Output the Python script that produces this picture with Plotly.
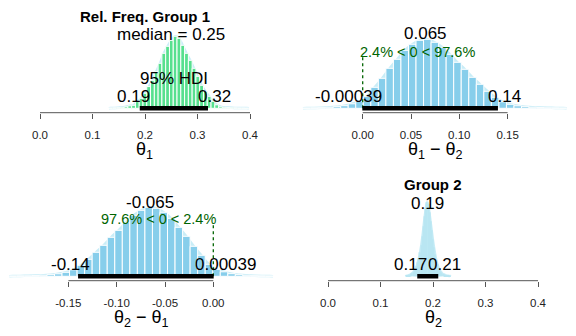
import plotly.graph_objects as go

W, H = 576, 336

# Posterior of theta1 (Group 1): histogram bins starting at g1_start, width g1_width
g1_start, g1_width = 0.1314, 0.0072
g1_heights = [0.3, 0.4, 0.6, 1.0, 1.5, 2.5, 3, 6.7, 10, 15, 21.7, 28, 36.7, 45,
              55, 62, 68, 72, 70, 63, 55, 48, 40, 32, 23, 17, 12, 7, 3.5, 1.5,
              1.0, 0.7, 0.5, 0.4, 0.3, 0.3, 0.2]

# Posterior of theta1 - theta2
diff_start, diff_width = -0.0618, 0.0078
diff_heights = [0.3, 0.4, 0.6, 1.0, 1.6, 2.6, 4.5, 7, 12, 21, 30, 40, 49, 58,
                64, 68, 69, 66, 61, 54, 46, 39, 31, 24, 17, 11, 6.5, 4, 2.5,
                1.6, 1.0, 0.7, 0.5, 0.4, 0.3]

# Posterior of theta2 (Group 2)
g2_start, g2_width = 0.148, 0.0022
g2_heights = [0.5, 0.7, 1, 1.5, 2, 3, 4, 5.5, 7.5, 10, 14, 18, 24, 31, 40, 50,
              60, 68, 74, 72, 64, 55, 46, 37, 29, 22, 16, 12, 8.5, 6, 4.5, 3,
              2.2, 1.6, 1.1, 0.8, 0.6, 0.4, 0.3]

g1_median, g1_hdi = 0.25, [0.19, 0.32]
diff_mode, diff_hdi = 0.065, [-0.00039, 0.14]
g2_mode, g2_hdi = 0.19, [0.17, 0.21]
pct_below, pct_above = 2.4, 97.6

FONT = "Liberation Sans, Arial, Helvetica, sans-serif"
SKY = "#87CEEB"
PALE = "#c9edf7"
GREEN = "#57e08f"
CVCOL = "#006400"

CHAR_W = {**{d: 0.556 for d in "0123456789"}, ".": 0.278, "-": 0.333,
          "%": 0.889, " ": 0.278, "<": 0.584}


def text_width(s, size):
    return sum(CHAR_W.get(c, 0.556) for c in s) * size


def fmt(v):
    return f"{v:g}"


def centers(start, width, n):
    return [start + width * (i + 0.5) for i in range(n)]


fig = go.Figure()

# panel geometry: (pixel x-domain, x-range, pixel y-domain top/bottom)
panels = {
    1: dict(px=(31.6, 258.4), xr=(-0.016, 0.416), py=(2, 112.7)),
    2: dict(px=(295, 576), xr=((295 - 362.7) / 966, (576 - 362.7) / 966), py=(2, 112.7)),
    3: dict(px=(0, 282), xr=((0 - 213.3) / 966, (282 - 213.3) / 966), py=(170, 280.7)),
    4: dict(px=(319.6, 546.4), xr=(-0.016, 0.416), py=(170, 280.7)),
}
YR = (-4.4, 106.3)
ticks = {
    1: [0, 0.1, 0.2, 0.3, 0.4],
    2: [0, 0.05, 0.10, 0.15],
    3: [-0.15, -0.10, -0.05, 0],
    4: [0, 0.1, 0.2, 0.3, 0.4],
}
ticktext = {
    1: ["0.0", "0.1", "0.2", "0.3", "0.4"],
    2: ["0.00", "0.05", "0.10", "0.15"],
    3: ["-0.15", "-0.10", "-0.05", "0.00"],
    4: ["0.0", "0.1", "0.2", "0.3", "0.4"],
}
axis_titles = {
    1: "θ<sub>1</sub>",
    2: "θ<sub>1</sub> − θ<sub>2</sub>",
    3: "θ<sub>2</sub> − θ<sub>1</sub>",
    4: "θ<sub>2</sub>",
}

for k, p in panels.items():
    sx = "" if k == 1 else str(k)
    fig.layout[f"xaxis{sx}"] = dict(
        domain=[p["px"][0] / W, p["px"][1] / W], range=list(p["xr"]),
        anchor=f"y{sx}", showgrid=False, zeroline=False, showline=False,
        tickmode="array", tickvals=ticks[k], ticktext=ticktext[k],
        ticks="outside", ticklen=5, tickwidth=1, tickcolor="#555",
        ticklabelstandoff=6,
        tickfont=dict(family=FONT, size=11.5, color="#222"), fixedrange=True)
    fig.layout[f"yaxis{sx}"] = dict(
        domain=[1 - p["py"][1] / H, 1 - p["py"][0] / H], range=list(YR),
        anchor=f"x{sx}", visible=False, fixedrange=True)
    # axis line spanning first to last tick
    fig.add_shape(type="line", xref=f"x{sx}", yref=f"y{sx} domain",
                  x0=ticks[k][0], x1=ticks[k][-1], y0=0, y1=0,
                  line=dict(color="#555", width=1))
    fig.add_annotation(text=axis_titles[k], xref=f"x{sx} domain", x=0.5,
                       yref="paper", y=1 - (150 if k <= 2 else 318) / H,
                       xanchor="center", yanchor="middle", showarrow=False,
                       font=dict(family=FONT, size=18, color="#000"))


def add_hist(k, start, width, heights, color, line_w=1):
    sx = "" if k == 1 else str(k)
    xs = centers(start, width, len(heights))
    # pale density envelope under the bars
    fig.add_trace(go.Scatter(
        x=[start] + xs + [start + width * len(heights)],
        y=[0] + heights + [0], mode="lines",
        line=dict(width=2.5, color=PALE, shape="spline"),
        fill="tozeroy", fillcolor=PALE, xaxis=f"x{sx}", yaxis=f"y{sx}",
        hoverinfo="skip", showlegend=False, zorder=0))
    fig.add_trace(go.Bar(
        x=xs, y=heights, width=[width] * len(heights),
        marker=dict(color=color, line=dict(color="white", width=line_w)),
        xaxis=f"x{sx}", yaxis=f"y{sx}", showlegend=False, zorder=1))


def add_hdi(k, hdi):
    sx = "" if k == 1 else str(k)
    fig.add_trace(go.Scatter(
        x=hdi, y=[0, 0], mode="lines", line=dict(color="black", width=4.5),
        xaxis=f"x{sx}", yaxis=f"y{sx}", hoverinfo="skip", showlegend=False,
        zorder=3))


def label(k, x, y, text, adj=0.5, size=17, color="#000"):
    sx = "" if k == 1 else str(k)
    w = text_width(text, size)
    fig.add_annotation(text=text, xref=f"x{sx}", yref=f"y{sx}", x=x, y=y,
                       xanchor="left", yanchor="middle", xshift=-adj * w,
                       showarrow=False, borderpad=0, borderwidth=0,
                       font=dict(family=FONT, size=size, color=color))


def comp_line(k):
    sx = "" if k == 1 else str(k)
    fig.add_trace(go.Scatter(
        x=[0, 0], y=[0, 51], mode="lines",
        line=dict(color=CVCOL, width=1.3, dash="dot"),
        xaxis=f"x{sx}", yaxis=f"y{sx}", hoverinfo="skip", showlegend=False,
        zorder=2))


# Panel 1: Group 1
add_hist(1, g1_start, g1_width, g1_heights, GREEN)
add_hdi(1, g1_hdi)
fig.add_annotation(text="median = " + fmt(g1_median), xref="x", yref="y",
                   x=g1_median, y=73.5, xanchor="center", yanchor="middle",
                   showarrow=False, font=dict(family=FONT, size=17, color="#000"))
fig.add_annotation(text="95% HDI", xref="x", yref="y",
                   x=sum(g1_hdi) / 2, y=30.3, xanchor="center", yanchor="middle",
                   showarrow=False, font=dict(family=FONT, size=17, color="#000"))
label(1, g1_hdi[0], 11.8, fmt(g1_hdi[0]), adj=0.7)
label(1, g1_hdi[1], 11.8, fmt(g1_hdi[1]), adj=0.3)

# Panel 2: theta1 - theta2
add_hist(2, diff_start, diff_width, diff_heights, SKY)
comp_line(2)
add_hdi(2, diff_hdi)
label(2, diff_mode, 74.3, fmt(diff_mode))
label(2, 0, 56, f"{pct_below}% < 0 < {pct_above}%", adj=pct_below / 100,
      size=14.5, color=CVCOL)
label(2, diff_hdi[0], 12.3, fmt(diff_hdi[0]), adj=0.7)
label(2, diff_hdi[1], 12.3, fmt(diff_hdi[1]), adj=0.3)

# Panel 3: theta2 - theta1 (mirror of the difference)
n = len(diff_heights)
rev_start = -(diff_start + diff_width * n)
add_hist(3, rev_start, diff_width, diff_heights[::-1], SKY)
comp_line(3)
rev_hdi = [-diff_hdi[1], -diff_hdi[0]]
add_hdi(3, rev_hdi)
label(3, -diff_mode, 74.3, fmt(-diff_mode))
label(3, 0, 57, f"{pct_above}% < 0 < {pct_below}%", adj=pct_above / 100,
      size=14.5, color=CVCOL)
label(3, rev_hdi[0], 11.6, fmt(rev_hdi[0]), adj=0.7)
label(3, rev_hdi[1], 11.6, fmt(rev_hdi[1]), adj=0.3)

# Panel 4: Group 2
add_hist(4, g2_start, g2_width, g2_heights, "#b9e6f2", line_w=0)
add_hdi(4, g2_hdi)
label(4, g2_mode, 73.3, fmt(g2_mode))
label(4, g2_hdi[0], 11.6, fmt(g2_hdi[0]), adj=0.7)
label(4, g2_hdi[1], 11.6, fmt(g2_hdi[1]), adj=0.3)

# panel titles
fig.add_annotation(text="<b>Rel. Freq. Group 1</b>", xref="x domain", x=0.5,
                   yref="paper", y=1 - 16.5 / H, xanchor="center", yanchor="middle",
                   showarrow=False, font=dict(family=FONT, size=15, color="#000"))
fig.add_annotation(text="<b>Group 2</b>", xref="x4 domain", x=0.5,
                   yref="paper", y=1 - 184.7 / H, xanchor="center", yanchor="middle",
                   showarrow=False, font=dict(family=FONT, size=15, color="#000"))

fig.update_layout(
    width=W, height=H, margin=dict(l=0, r=0, t=0, b=0),
    paper_bgcolor="white", plot_bgcolor="white", barmode="overlay",
    showlegend=False, font=dict(family=FONT),
)

fig.write_html("out.html")
